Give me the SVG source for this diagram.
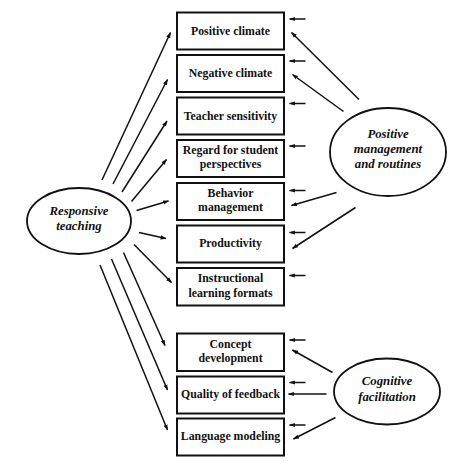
<svg xmlns="http://www.w3.org/2000/svg" width="474" height="474" viewBox="0 0 474 474">
<defs>
<marker id="ah" viewBox="0 0 10 10" refX="9" refY="5" markerWidth="6" markerHeight="6" markerUnits="userSpaceOnUse" orient="auto">
<path d="M0,1.5 L10,5 L0,8.5 z" fill="#111"/>
</marker>
<style>
.box{fill:#fff;stroke:#111;stroke-width:2}
.ell{fill:#fff;stroke:#111;stroke-width:1.8}
.bt{font-family:"Liberation Serif",serif;font-weight:bold;font-size:11.8px;fill:#111;text-anchor:middle}
.et{font-family:"Liberation Serif",serif;font-weight:bold;font-style:italic;font-size:12.8px;fill:#111;text-anchor:middle}
.c line{stroke:#111;stroke-width:1.5;marker-end:url(#ah)}
</style>
</defs>
<rect width="474" height="474" fill="#fff"/>
<g id="n1"><rect class="box" x="177" y="12.5" width="107" height="37"/><text class="bt" x="230.5" y="34.5">Positive climate</text></g>
<g id="n2"><rect class="box" x="177" y="55" width="107" height="37"/><text class="bt" x="230.5" y="77">Negative climate</text></g>
<g id="n3"><rect class="box" x="177" y="97.5" width="107" height="37"/><text class="bt" x="230.5" y="119.5">Teacher sensitivity</text></g>
<g id="n4"><rect class="box" x="177" y="140" width="107" height="37"/><text class="bt" x="230.5" y="153.5">Regard for student</text><text class="bt" x="230.5" y="167.5">perspectives</text></g>
<g id="n5"><rect class="box" x="177" y="183" width="107" height="37"/><text class="bt" x="230.5" y="197">Behavior</text><text class="bt" x="230.5" y="211">management</text></g>
<g id="n6"><rect class="box" x="177" y="225.5" width="107" height="37"/><text class="bt" x="230.5" y="247">Productivity</text></g>
<g id="n7"><rect class="box" x="177" y="268" width="107" height="37.5"/><text class="bt" x="230.5" y="282">Instructional</text><text class="bt" x="230.5" y="296.5">learning formats</text></g>
<g id="n8"><rect class="box" x="177" y="333.5" width="107" height="37.5"/><text class="bt" x="230.5" y="347.5">Concept</text><text class="bt" x="230.5" y="362">development</text></g>
<g id="n9"><rect class="box" x="177" y="376.5" width="107" height="37"/><text class="bt" x="230.5" y="397.5">Quality of feedback</text></g>
<g id="n10"><rect class="box" x="177" y="418.5" width="107" height="37"/><text class="bt" x="230.5" y="440">Language modeling</text></g>
<g id="rt"><ellipse class="ell" cx="79" cy="221" rx="52" ry="33"/><text class="et" x="79" y="215">Responsive</text><text class="et" x="79" y="230">teaching</text></g>
<g id="pm"><ellipse class="ell" cx="388" cy="152" rx="58" ry="44"/><text class="et" x="388" y="138">Positive</text><text class="et" x="388" y="153">management</text><text class="et" x="388" y="168">and routines</text></g>
<g id="cf"><ellipse class="ell" cx="387" cy="391.5" rx="53" ry="33"/><text class="et" x="387" y="385">Cognitive</text><text class="et" x="387" y="401">facilitation</text></g>
<g class="c" id="connectors">
<line x1="102" y1="180" x2="170.5" y2="32.5"/>
<line x1="113" y1="184" x2="167.5" y2="79.5"/>
<line x1="122" y1="192" x2="167" y2="121"/>
<line x1="131.5" y1="201.5" x2="166.5" y2="159.5"/>
<line x1="136.5" y1="210.5" x2="168.5" y2="201"/>
<line x1="139" y1="232.5" x2="166" y2="238.5"/>
<line x1="134" y1="244.5" x2="171.5" y2="282.5"/>
<line x1="123.5" y1="252.5" x2="165" y2="345.5"/>
<line x1="111.5" y1="259" x2="167.5" y2="390"/>
<line x1="100" y1="265" x2="167.5" y2="430"/>
<line x1="359" y1="99.5" x2="291.5" y2="32.5"/>
<line x1="343.5" y1="111.5" x2="292.5" y2="74.5"/>
<line x1="336.5" y1="192.5" x2="291.5" y2="205.5"/>
<line x1="355.5" y1="207.5" x2="292.5" y2="248.5"/>
<line x1="332.5" y1="372.5" x2="292.5" y2="350"/>
<line x1="326.5" y1="394" x2="288.5" y2="394"/>
<line x1="335.5" y1="417.5" x2="293.5" y2="439"/>
<line x1="305.5" y1="19" x2="289.5" y2="19"/>
<line x1="305.5" y1="61" x2="289.5" y2="61"/>
<line x1="305.5" y1="103.5" x2="289.5" y2="103.5"/>
<line x1="305.5" y1="146" x2="289.5" y2="146"/>
<line x1="305.5" y1="190.5" x2="289.5" y2="190.5"/>
<line x1="305.5" y1="232.5" x2="289.5" y2="232.5"/>
<line x1="305.5" y1="275.5" x2="289.5" y2="275.5"/>
<line x1="305.5" y1="340" x2="289.5" y2="340"/>
<line x1="305.5" y1="382.5" x2="289.5" y2="382.5"/>
<line x1="305.5" y1="425" x2="289.5" y2="425"/>
</g>
</svg>
